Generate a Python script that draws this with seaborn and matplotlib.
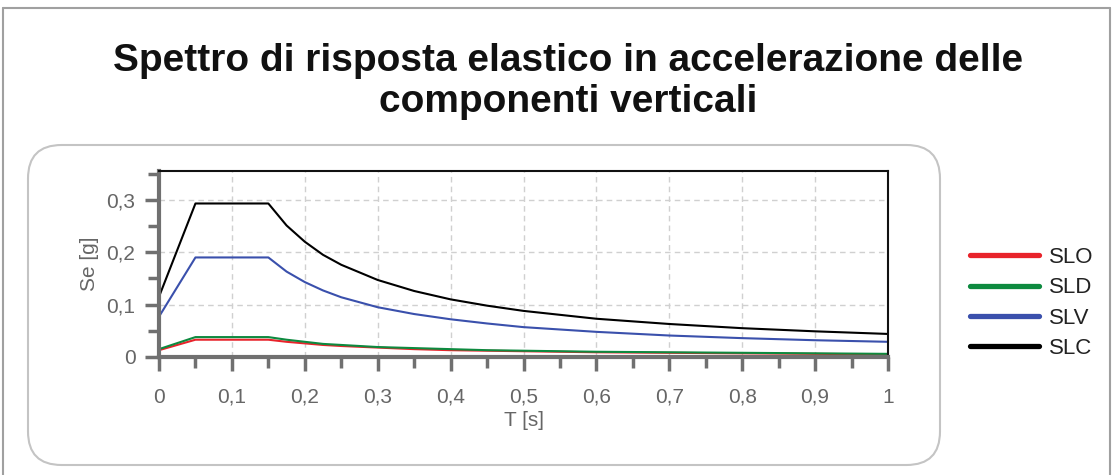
import numpy as np
import pandas as pd
import matplotlib
matplotlib.use("Agg")
import matplotlib.pyplot as plt
import seaborn as sns
from matplotlib.patches import FancyBboxPatch
from matplotlib.ticker import MultipleLocator, FuncFormatter

# ----------------------------------------------------------------------
# Data (T in s, Se in g)
# ----------------------------------------------------------------------
periods = [0.0, 0.05, 0.15, 0.175, 0.2, 0.225, 0.25, 0.3, 0.35, 0.4, 0.45,
           0.5, 0.6, 0.7, 0.8, 0.9, 1.0]
slo = [0.013, 0.033, 0.033, 0.029, 0.026, 0.023, 0.021, 0.018, 0.015, 0.013, 0.012,
       0.011, 0.009, 0.008, 0.007, 0.006, 0.005]
sld = [0.015, 0.038, 0.038, 0.033, 0.029, 0.025, 0.023, 0.019, 0.017, 0.015, 0.013,
       0.012, 0.010, 0.009, 0.008, 0.007, 0.006]
slv = [0.077, 0.190, 0.190, 0.163, 0.143, 0.127, 0.114, 0.095, 0.082, 0.072, 0.064,
       0.057, 0.048, 0.041, 0.036, 0.032, 0.029]
slc = [0.115, 0.293, 0.293, 0.251, 0.220, 0.195, 0.176, 0.147, 0.126, 0.110, 0.098,
       0.088, 0.073, 0.063, 0.055, 0.049, 0.044]
series_names = ["SLO", "SLD", "SLV", "SLC"]
colors = ["#e8232b", "#0d8a3f", "#3a50ac", "#000000"]

df = pd.DataFrame({
    "T": periods * 4,
    "Se": slo + sld + slv + slc,
    "stato": np.repeat(series_names, len(periods)),
})

# ----------------------------------------------------------------------
# Figure
# ----------------------------------------------------------------------
sns.set_style("white")
plt.rcParams["font.family"] = ["Liberation Sans", "DejaVu Sans"]

W, H = 1118, 475
fig = plt.figure(figsize=(W / 100, H / 100), dpi=100)

def fx(px):
    return px / W

def fy(py):
    return 1 - py / H

# outer frame of the picture
for xs, ys in [([3, 3], [8, H]), ([3, 1110], [8, 8]), ([1110, 1110], [8, H])]:
    fig.add_artist(plt.Line2D([fx(v) for v in xs], [fy(v) for v in ys],
                              color="#a0a0a0", lw=1.5, zorder=0))

# rounded panel around the plot
panel = FancyBboxPatch((fx(28), fy(465)), fx(940) - fx(28), fy(145) - fy(465),
                       boxstyle="round,pad=0,rounding_size=0.03",
                       transform=fig.transFigure, facecolor="white",
                       edgecolor="#c4c4c4", lw=1.5, mutation_aspect=W / H, zorder=-1)
fig.add_artist(panel)

fig.text(0.508, fy(61), "Spettro di risposta elastico in accelerazione delle",
         ha="center", va="center", fontsize=28, fontweight="bold", color="#111111")
fig.text(0.508, fy(102), "componenti verticali",
         ha="center", va="center", fontsize=28, fontweight="bold", color="#111111")

ax = fig.add_axes([fx(159), fy(357), fx(888) - fx(159), fy(171) - fy(357)])
ax.set_zorder(5)
sns.lineplot(data=df, x="T", y="Se", hue="stato", palette=colors,
             hue_order=series_names, ax=ax, lw=1.5, legend=False)

ax.set_xlim(0, 1)
ax.set_ylim(0, 0.355)
ax.xaxis.set_major_locator(MultipleLocator(0.1))
ax.xaxis.set_minor_locator(MultipleLocator(0.05))
ax.yaxis.set_major_locator(MultipleLocator(0.1))
ax.yaxis.set_minor_locator(MultipleLocator(0.05))
comma = FuncFormatter(lambda v, p: ("%g" % round(v, 2)).replace(".", ","))
ax.xaxis.set_major_formatter(comma)
ax.yaxis.set_major_formatter(comma)

ax.grid(True, which="major", linestyle=(0, (4, 3)), color="#d0d0d0", lw=1)
for side in ["left", "bottom"]:
    ax.spines[side].set_color("#707070")
    ax.spines[side].set_linewidth(3)
for side in ["top", "right"]:
    ax.spines[side].set_color("#111111")
    ax.spines[side].set_linewidth(1.5)

ax.tick_params(which="major", direction="out", length=10, width=2.5, color="#707070",
               labelsize=15, labelcolor="#666666")
ax.tick_params(which="minor", direction="out", length=8, width=2.5, color="#707070")
ax.tick_params(axis="x", which="both", bottom=True)
ax.tick_params(axis="x", which="major", pad=12)
ax.tick_params(axis="y", which="both", left=True)
ax.tick_params(axis="y", which="major", pad=7)

ax.set_xlabel("T [s]", fontsize=15, color="#666666", labelpad=3)
ax.set_ylabel("Se [g]", fontsize=15, color="#666666", labelpad=5)

# legend to the right of the panel
handles = [plt.Line2D([], [], color=c, lw=3.8) for c in colors]
fig.legend(handles, series_names, loc="center left",
           bbox_to_anchor=(fx(950), fy(303)), frameon=False, fontsize=16,
           handlelength=3.1, handletextpad=0.45, labelspacing=0.42,
           labelcolor="#222222")

fig.savefig("out.png", dpi=100)
